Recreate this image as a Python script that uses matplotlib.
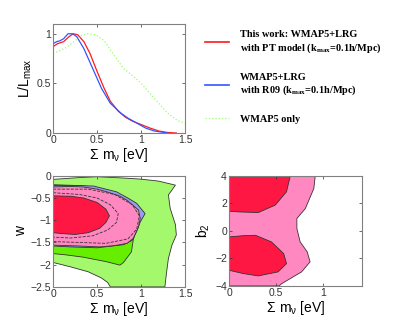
import matplotlib
matplotlib.use("Agg")
import matplotlib.pyplot as plt
from matplotlib.lines import Line2D

plt.rcParams['font.family'] = 'Liberation Sans'
plt.rcParams['mathtext.fontset'] = 'custom'
plt.rcParams['mathtext.rm'] = 'Liberation Serif:bold'
plt.rcParams['mathtext.sf'] = 'Liberation Sans'

# 1D likelihood curves (sum m_nu in eV, L/Lmax)
mnu_pt = [0, 0.05, 0.12, 0.18, 0.23, 0.28, 0.35, 0.42, 0.5, 0.58, 0.65, 0.74, 0.82,
          0.9, 1.0, 1.1, 1.2, 1.3, 1.4]
like_pt = [0.87, 0.9, 0.92, 0.97, 1.0, 0.99, 0.92, 0.8, 0.62, 0.45, 0.32, 0.22, 0.16,
           0.12, 0.085, 0.05, 0.02, 0.005, 0]
mnu_r09 = [0, 0.04, 0.08, 0.12, 0.17, 0.22, 0.27, 0.35, 0.45, 0.55, 0.65, 0.77, 0.85,
           0.95, 1.05, 1.15, 1.3]
like_r09 = [0.9, 0.92, 0.93, 0.95, 1.0, 1.0, 0.97, 0.85, 0.65, 0.45, 0.3, 0.2, 0.15,
            0.1, 0.05, 0.02, 0]
mnu_wmap = [0, 0.15, 0.25, 0.32, 0.4, 0.48, 0.58, 0.68, 0.8, 0.9, 1.0, 1.1, 1.2, 1.3,
            1.42, 1.5]
like_wmap = [0.8, 0.86, 0.93, 0.98, 1.0, 0.99, 0.93, 0.8, 0.65, 0.58, 0.5, 0.4, 0.3,
             0.2, 0.12, 0.1]

# w vs sum m_nu contour boundaries
wmap95_x = [0, 0.3, 0.5, 0.8, 1.0, 1.2, 1.39, 1.31, 1.33, 1.39, 1.40, 1.35, 1.31, 1.29,
            1.27, 0.65, 0.62, 0.55, 0.4, 0.2, 0]
wmap95_y = [-0.08, -0.04, -0.02, -0.05, -0.075, -0.12, -0.21, -0.43, -0.73, -1.1, -1.33,
            -1.56, -1.86, -2.16, -2.5, -2.5, -2.4, -2.3, -2.16, -2.05, -1.95]
wmap68_x = [0, 0.3, 0.46, 0.6, 0.75, 0.9, 1.0, 0.98, 0.93, 0.91, 0.89, 0.8, 0.76, 0.6,
            0.34, 0.15, 0]
wmap68_y = [-0.2, -0.22, -0.25, -0.32, -0.45, -0.6, -0.8, -1.05, -1.3, -1.45, -1.71,
            -1.95, -2.01, -1.93, -1.83, -1.78, -1.75]
r09_95_x = [0, 0.3, 0.46, 0.6, 0.72, 0.85, 0.95, 1.045, 0.99, 0.95, 0.9, 0.8, 0.5, 0.2, 0]
r09_95_y = [-0.22, -0.22, -0.23, -0.3, -0.36, -0.5, -0.62, -0.85, -1.04, -1.25, -1.45,
            -1.55, -1.62, -1.6, -1.58]
pt95_x = [0, 0.2, 0.34, 0.5, 0.61, 0.75, 0.84, 0.97, 0.99, 0.97, 0.91, 0.84, 0.7, 0.53,
          0.3, 0]
pt95_y = [-0.25, -0.24, -0.25, -0.3, -0.36, -0.45, -0.55, -0.77, -0.96, -1.15, -1.41,
          -1.52, -1.57, -1.6, -1.58, -1.56]
pt68_x = [0, 0.2, 0.35, 0.5, 0.6, 0.64, 0.6, 0.53, 0.4, 0.25, 0.1, 0]
pt68_y = [-0.45, -0.46, -0.5, -0.6, -0.75, -0.9, -1.05, -1.18, -1.28, -1.32, -1.3, -1.28]
r09_68_x = [0, 0.3, 0.5, 0.65, 0.74, 0.72, 0.62, 0.45, 0.2, 0]
r09_68_y = [-0.38, -0.42, -0.5, -0.65, -0.85, -1.05, -1.22, -1.35, -1.4, -1.38]
r09_95d_x = [0, 0.4, 0.7, 0.9, 0.98, 0.95, 0.85, 0.6, 0.3, 0]
r09_95d_y = [-0.3, -0.3, -0.42, -0.65, -0.9, -1.2, -1.42, -1.52, -1.5, -1.48]

# b2 vs sum m_nu contour boundaries
b2_95_x = [0, 0.915, 0.9, 0.81, 0.72, 0.72, 0.755, 0.83, 0.86, 0.77, 0.56, 0.53, 0]
b2_95_y = [4, 4, 3.08, 1.62, 0.9, 0.17, -0.8, -1.53, -2.25, -2.98, -3.83, -4, -4]
b2_68a_x = [0, 0.65, 0.61, 0.49, 0.31, 0.1, 0]
b2_68a_y = [4, 4, 2.84, 1.87, 1.33, 1.38, 1.43]
b2_68b_x = [0, 0.15, 0.28, 0.45, 0.58, 0.61, 0.52, 0.31, 0.15, 0]
b2_68b_y = [-0.44, -0.35, -0.32, -0.8, -1.65, -2.38, -2.98, -3.27, -3.1, -2.86]

red = '#ff1a1a'
blue = '#3355ff'
lgreen = '#99ff66'
c_wmap95 = '#a4f86c'
c_wmap68 = '#66ee00'
c_r09 = '#9a9cf0'
c_pt95 = '#ff88c0'
c_pt68 = '#ff1744'
edge = '#333333'

xlab = r'$\mathsf{\Sigma\ m_{\nu}}$ [eV]'


def style(ax):
    ax.tick_params(direction='in', top=True, right=True, labelsize=7.5,
                   length=2.5, width=0.5, colors='#333333', pad=1.5)
    for s in ax.spines.values():
        s.set_color('#808080')
        s.set_linewidth(0.8)


fig = plt.figure(figsize=(3.99, 3.22), dpi=100)

ax1 = fig.add_axes([0.133, 0.587, 0.331, 0.339])
ax1.plot(mnu_pt, like_pt, color=red, lw=0.9)
ax1.plot(mnu_r09, like_r09, color=blue, lw=0.9)
ax1.plot(mnu_wmap, like_wmap, color=lgreen, lw=0.9, ls=':')
ax1.set_xlim(0, 1.5)
ax1.set_ylim(0, 1.1)
ax1.set_xticks([0, 0.5, 1, 1.5])
ax1.set_xticklabels(['0', '0.5', '1', '1.5'])
ax1.set_yticks([0, 0.5, 1])
ax1.set_yticklabels(['0', '0.5', '1'])
ax1.set_xlabel(xlab, fontsize=10, labelpad=1)
ax1.set_ylabel(r'L/L$_{\mathsf{max}}$', fontsize=10, labelpad=2)
style(ax1)

ax2 = fig.add_axes([0.133, 0.109, 0.331, 0.345])
ax2.fill(wmap95_x, wmap95_y, facecolor=c_wmap95, edgecolor=edge, lw=0.6)
ax2.fill(wmap68_x, wmap68_y, facecolor=c_wmap68, edgecolor=edge, lw=0.6)
ax2.fill(r09_95_x, r09_95_y, facecolor=c_r09, edgecolor=edge, lw=0.6)
ax2.fill(pt95_x, pt95_y, facecolor=c_pt95, edgecolor=edge, lw=0.6)
ax2.fill(pt68_x, pt68_y, facecolor=c_pt68, edgecolor=edge, lw=0.6)
ax2.plot(r09_68_x, r09_68_y, color=edge, lw=0.6, ls='--')
ax2.plot(r09_95d_x, r09_95d_y, color=edge, lw=0.6, ls='--')
ax2.set_xlim(0, 1.5)
ax2.set_ylim(-2.5, 0)
ax2.set_xticks([0, 0.5, 1, 1.5])
ax2.set_xticklabels(['0', '0.5', '1', '1.5'])
ax2.set_yticks([0, -0.5, -1, -1.5, -2, -2.5])
ax2.set_yticklabels(['0', '\u22120.5', '\u22121', '\u22121.5', '\u22122', '\u22122.5'])
ax2.set_xlabel(xlab, fontsize=10, labelpad=1)
ax2.set_ylabel('w', fontsize=10, labelpad=2)
style(ax2)

ax3 = fig.add_axes([0.574, 0.112, 0.333, 0.342])
ax3.fill(b2_95_x, b2_95_y, facecolor=c_pt95, edgecolor=edge, lw=0.6)
ax3.fill(b2_68a_x, b2_68a_y, facecolor=c_pt68, edgecolor=edge, lw=0.6)
ax3.fill(b2_68b_x, b2_68b_y, facecolor=c_pt68, edgecolor=edge, lw=0.6)
ax3.set_xlim(0, 1.41)
ax3.set_ylim(-4, 4)
ax3.set_xticks([0, 0.5, 1])
ax3.set_xticklabels(['0', '0.5', '1'])
ax3.set_yticks([-4, -2, 0, 2, 4])
ax3.set_yticklabels(['\u22124', '\u22122', '0', '2', '4'])
ax3.set_xlabel(xlab, fontsize=10, labelpad=1)
ax3.set_ylabel(r'b$_{\mathsf{2}}$', fontsize=10, labelpad=2)
style(ax3)

handles = [Line2D([], [], color=red, lw=1.2),
           Line2D([], [], color=blue, lw=1.2),
           Line2D([], [], color=lgreen, lw=0.9, ls=':')]
labels = ['This work: WMAP5+LRG\nwith PT model (k$_{\\mathrm{max}}$=0.1h/Mpc)',
          'WMAP5+LRG\nwith R09 (k$_{\\mathrm{max}}$=0.1h/Mpc)',
          'WMAP5 only']
fig.legend(handles, labels, loc='upper left', bbox_to_anchor=(0.49, 0.935),
           frameon=False, prop={'family': 'Liberation Serif', 'weight': 'bold', 'size': 7.4},
           handlelength=2.4, handletextpad=1.0, labelspacing=1.75)

fig.savefig('out.png', dpi=100)
